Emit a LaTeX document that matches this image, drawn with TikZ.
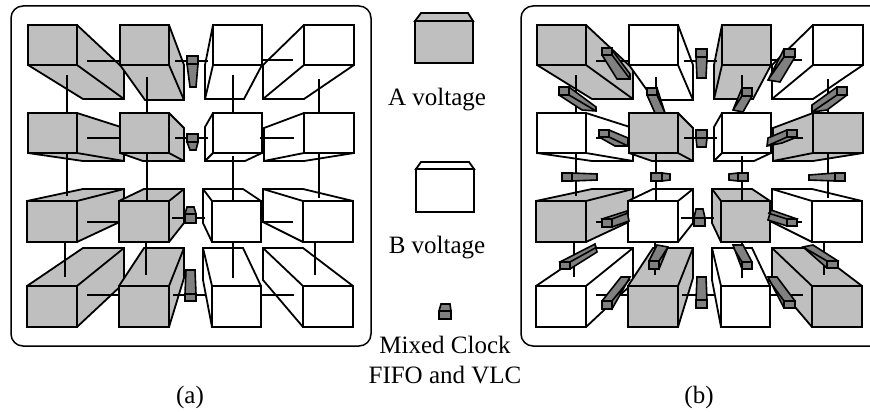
\documentclass[tikz,border=0pt]{standalone}
\usepackage{fontspec}
\setmainfont{Liberation Serif}
\usepackage{tikz}

\tikzset{
    tileA/.style={draw=black,line width=1.8pt,fill=black!25},
    tileB/.style={draw=black,line width=1.8pt,fill=white},
    fifo/.style={draw=black,line width=1.6pt,fill=black!50},
    wire/.style={draw=black,line width=1.5pt},
    frame/.style={draw=black,line width=1.5pt,rounded corners=12pt},
    lbl/.style={font=\fontsize{25}{29}\selectfont,inner sep=0pt,anchor=base}
}

% outer corner, inner corner, back face outer corner, back face inner corner, style
\newcommand{\tile}[9]{
    \filldraw[#9] (#3,#2) -- (#7,#6) -- (#7,#8) -- (#5,#8) -- (#1,#4) -- (#1,#2) -- cycle;
    \draw[#9] (#3,#4) -- (#7,#8);
    \filldraw[#9] (#1,#2) rectangle (#3,#4);
}
% style, front face corners, outline
\newcommand{\block}[4]{
    \filldraw[#1] #4;
    \filldraw[#1] #2 rectangle #3;
}
% styles per column, odd rows then even rows
\newcommand{\tilegrid}[8]{
    \tile{28}{25}{77}{65}{83}{69}{124}{99}{#1}
    \tile{354}{25}{304}{65}{304}{65}{263}{99}{#4}
    \tile{120}{25}{169}{65}{145}{65}{184}{100}{#2}
    \tile{262}{25}{213}{65}{244}{65}{205}{99}{#3}

    \tile{28}{113}{77}{153}{83}{128}{124}{161}{#5}
    \tile{354}{113}{304}{153}{304}{128}{264}{161}{#8}
    \tile{120}{113}{169}{153}{143}{128}{184}{161}{#6}
    \tile{262}{113}{213}{153}{245}{127}{205}{161}{#7}

    \tile{27}{242}{77}{201}{83}{220}{124}{189}{#1}
    \tile{353}{242}{303}{201}{303}{222}{263}{189}{#4}
    \tile{119}{242}{169}{201}{144}{223}{184}{189}{#2}
    \tile{261}{242}{212}{201}{243}{223}{203}{189}{#3}

    \tile{27}{327}{77}{286}{83}{283}{124}{248}{#5}
    \tile{353}{327}{303}{286}{303}{280}{263}{248}{#8}
    \tile{119}{327}{169}{286}{144}{278}{184}{248}{#6}
    \tile{261}{327}{212}{286}{243}{280}{203}{248}{#7}

    \draw[wire] (87,61) -- (120,61);
    \draw[wire] (175,61) -- (208,61);
    \draw[wire] (261,60) -- (293,60);
    \draw[wire] (87,138) -- (121,138);
    \draw[wire] (175,138) -- (208,138);
    \draw[wire] (260,138) -- (294,138);
    \draw[wire] (87,222) -- (119,222);
    \draw[wire] (172,218) -- (205,218);
    \draw[wire] (262,222) -- (293,222);
    \draw[wire] (87,295) -- (120,295);
    \draw[wire] (173,295) -- (205,295);
    \draw[wire] (262,295) -- (294,295);

    \draw[wire] (67,75) -- (67,112);
    \draw[wire] (67,153) -- (67,196);
    \draw[wire] (65,242) -- (65,277);
    \draw[wire] (147,77) -- (147,112);
    \draw[wire] (147,153) -- (147,200);
    \draw[wire] (146,242) -- (146,275);
    \draw[wire] (233,75) -- (233,113);
    \draw[wire] (233,156) -- (233,200);
    \draw[wire] (233,242) -- (233,278);
    \draw[wire] (319,79) -- (319,114);
    \draw[wire] (319,153) -- (319,198);
    \draw[wire] (315,242) -- (315,275);
}

\begin{document}
\begin{tikzpicture}[x=1pt,y=-1pt]
    \clip (0,0) rectangle (870,412);

    % panel a
    \draw[frame] (11,6) rectangle (371,346);
    \tilegrid{tileA}{tileA}{tileB}{tileB}{tileA}{tileA}{tileB}{tileB}
    \block{fifo}{(187,56)}{(198,64)}{(198,64) -- (196,87) -- (190,87) -- (187,64) -- cycle}
    \block{fifo}{(187,134)}{(198,142)}{(198,142) -- (196,150) -- (190,150) -- (187,142) -- cycle}
    \block{fifo}{(185,214)}{(196,223)}{(185,214) -- (187,207) -- (194,207) -- (196,214) -- cycle}
    \block{fifo}{(185,294)}{(196,301)}{(185,294) -- (186,270) -- (195,270) -- (196,294) -- cycle}
    \node[lbl] (labela) at (190,403) {(a)};

    % panel b
    \begin{scope}[xshift=509pt]
        \draw[frame] (12,6) rectangle (381,346);
        \tilegrid{tileA}{tileB}{tileA}{tileB}{tileB}{tileA}{tileB}{tileA}
    \end{scope}
    \block{fifo}{(602,48)}{(612,55)}{(612,50) -- (630,74) -- (630,79) -- (617,79) -- (602,55) -- cycle (612,55) -- (630,79)}
    \block{fifo}{(559,87)}{(569,95)}{(569,87) -- (596,107) -- (596,111) -- (582,110) -- (559,95) -- cycle (569,95) -- (596,111)}
    \block{fifo}{(647,88)}{(657,95)}{(657,88) -- (665,113) -- (655,113) -- (647,95) -- cycle (657,95) -- (665,113)}
    \block{fifo}{(599,130)}{(609,137)}{(609,130) -- (628,138) -- (628,146) -- (615,146) -- (599,137) -- cycle (609,137) -- (628,146)}
    \block{fifo}{(562,173)}{(572,181)}{(572,173) -- (597,174) -- (597,180) -- (572,181) -- cycle}
    \block{fifo}{(651,173)}{(662,181)}{(662,173) -- (670,174) -- (670,180) -- (662,181) -- cycle}
    \block{fifo}{(696,49)}{(707,57)}{(707,57) -- (706,78) -- (697,78) -- (696,57) -- cycle}
    \block{fifo}{(696,130)}{(707,138)}{(707,138) -- (706,147) -- (697,147) -- (696,138) -- cycle}
    \block{fifo}{(784,49)}{(795,57)}{(784,49) -- (768,80) -- (780,82) -- (795,57) -- cycle (784,57) -- (768,80)}
    \block{fifo}{(742,88)}{(752,96)}{(742,88) -- (733,110) -- (743,112) -- (752,96) -- cycle (742,96) -- (733,110)}
    \block{fifo}{(837,87)}{(847,95)}{(837,87) -- (812,105) -- (812,112) -- (827,110) -- (847,95) -- cycle (837,95) -- (812,112)}
    \block{fifo}{(787,130)}{(797,137)}{(787,130) -- (768,138) -- (767,146) -- (782,143) -- (797,137) -- cycle (787,137) -- (767,146)}
    \block{fifo}{(738,173)}{(748,181)}{(738,173) -- (729,174) -- (729,180) -- (738,181) -- cycle}
    \block{fifo}{(835,173)}{(845,181)}{(835,173) -- (809,175) -- (809,180) -- (835,181) -- cycle}
    \block{fifo}{(602,219)}{(612,227)}{(602,219) -- (627,211) -- (629,221) -- (612,227) -- cycle (612,219) -- (628,213)}
    \block{fifo}{(560,262)}{(570,269)}{(560,262) -- (595,244) -- (597,252) -- (570,269) -- cycle (570,262) -- (597,247)}
    \block{fifo}{(649,261)}{(659,269)}{(649,261) -- (657,245) -- (668,247) -- (659,269) -- cycle (659,261) -- (668,247)}
    \block{fifo}{(602,301)}{(612,309)}{(602,301) -- (621,277) -- (630,277) -- (612,309) -- cycle (612,301) -- (630,279)}
    \block{fifo}{(694,218)}{(705,226)}{(694,218) -- (696,209) -- (703,209) -- (705,218) -- cycle}
    \block{fifo}{(696,300)}{(707,308)}{(696,300) -- (697,277) -- (706,277) -- (707,300) -- cycle}
    \block{fifo}{(787,219)}{(797,226)}{(797,219) -- (771,210) -- (768,220) -- (787,226) -- cycle (787,219) -- (768,213)}
    \block{fifo}{(742,262)}{(752,269)}{(752,262) -- (743,245) -- (733,245) -- (742,269) -- cycle (742,262) -- (733,247)}
    \block{fifo}{(827,261)}{(838,268)}{(838,261) -- (813,245) -- (803,247) -- (827,268) -- cycle (827,261) -- (803,247)}
    \block{fifo}{(784,301)}{(795,308)}{(795,301) -- (777,277) -- (768,277) -- (784,308) -- cycle (784,301) -- (768,279)}
    \node[lbl] (labelb) at (699,403) {(b)};

    % legend
    \block{tileA}{(415,21)}{(473,63)}{(415,21) -- (421,13) -- (468,13) -- (473,21) -- cycle}
    \node[lbl] (voltagea) at (437,106) {A voltage};
    \block{tileB}{(416,169)}{(474,212)}{(416,169) -- (421,162) -- (469,162) -- (474,169) -- cycle}
    \node[lbl] (voltageb) at (437,253) {B voltage};
    \block{fifo}{(439,311)}{(451,319)}{(439,311) -- (441,304) -- (450,304) -- (451,311) -- cycle}
    \node[lbl] (mixedclock) at (445,353) {Mixed Clock};
    \node[lbl] (fifovlc) at (445,383) {FIFO and VLC};
\end{tikzpicture}
\end{document}
